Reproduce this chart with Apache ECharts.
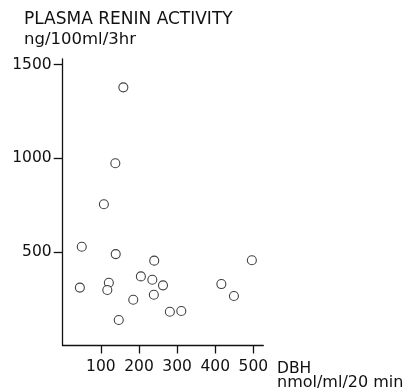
<!DOCTYPE html>
<html>
<head>
<meta charset="utf-8">
<script src="https://cdn.jsdelivr.net/npm/echarts@6/dist/echarts.min.js"></script>
<style>html,body{margin:0;padding:0;background:#fff;}#c{width:405px;height:389px;}</style>
</head>
<body>
<div id="c"></div>
<script>
// DBH (nmol/ml/20 min)
var dbh = [108, 50, 139, 240, 205, 235, 263, 121, 117, 45, 239, 185, 281, 311, 147, 496, 416, 449, 159, 138];
// Plasma renin activity (ng/100ml/3hr)
var renin = [754, 527, 488, 453, 369, 351, 321, 335, 296, 309, 271, 244, 180, 184, 136, 455, 328, 264, 1378, 973];
var xTicks = [100, 200, 300, 400, 500];
var yTicks = [500, 1000, 1500];
var titleText = 'PLASMA RENIN ACTIVITY';
var unitText = 'ng/100ml/3hr';
var xName = 'DBH';
var xUnit = 'nmol/ml/20 min';

var font = 'DejaVu Sans';
var points = dbh.map(function (d, i) { return [d, renin[i]]; });

var chart = echarts.init(document.getElementById('c'), null, {renderer: 'canvas'});
chart.setOption({
  backgroundColor: '#fff',
  animation: false,
  grid: {left: 62.7, right: 141.7, top: 58.9, bottom: 43.5, containLabel: false},
  xAxis: {
    type: 'value', min: 0, max: 526, interval: 100,
    axisLine: {show: true, onZero: false, lineStyle: {color: '#111', width: 1.3}},
    axisTick: {show: true, inside: false, length: 8, customValues: xTicks, lineStyle: {color: '#111', width: 1.3}},
    axisLabel: {show: true, customValues: xTicks, margin: 13, color: '#111', fontFamily: font, fontSize: 15.5,
      formatter: function (v) { return String(v); }},
    splitLine: {show: false}
  },
  yAxis: {
    type: 'value', min: 0, max: 1530, interval: 500,
    axisLine: {show: true, onZero: false, lineStyle: {color: '#111', width: 1.3}},
    axisTick: {show: true, inside: false, length: 9, customValues: yTicks, lineStyle: {color: '#111', width: 1.3}},
    axisLabel: {show: true, customValues: yTicks, margin: 11, color: '#111', fontFamily: font, fontSize: 15.5,
      formatter: function (v) { return String(v); }},
    splitLine: {show: false}
  },
  series: [{
    type: 'scatter',
    data: points,
    symbol: 'circle',
    symbolSize: 9,
    itemStyle: {color: '#fff', borderColor: '#111', borderWidth: 1.1}
  }],
  graphic: [
    {type: 'text', left: 24, top: 11, style: {text: titleText, fill: '#111', font: '17px "DejaVu Sans"'}},
    {type: 'text', left: 24, top: 31, style: {text: unitText, fill: '#111', font: '16.5px "DejaVu Sans"'}},
    {type: 'text', x: 277, y: 368.5, style: {text: xName, fill: '#111', font: '15.5px "DejaVu Sans"', verticalAlign: 'middle', align: 'left'}},
    {type: 'text', x: 277, y: 383, style: {text: xUnit, fill: '#111', font: '16px "DejaVu Sans"', verticalAlign: 'middle', align: 'left'}}
  ]
});
</script>
</body>
</html>
